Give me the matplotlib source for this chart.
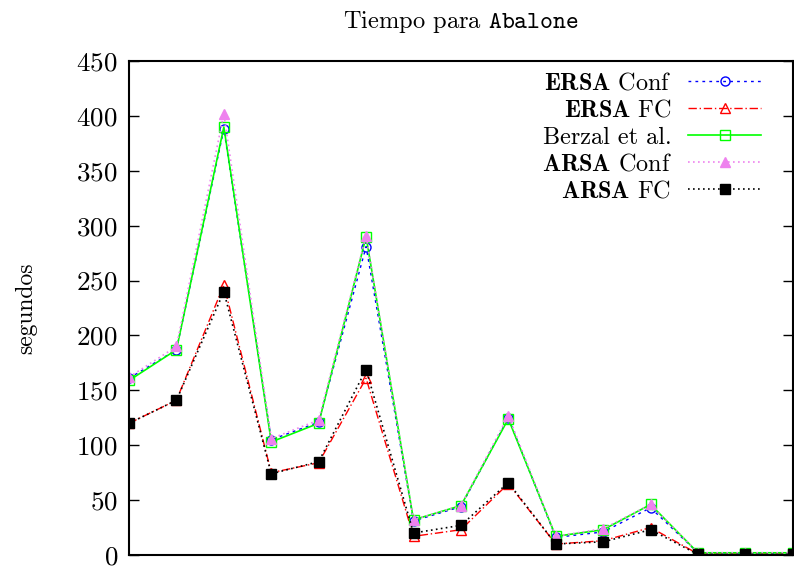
import matplotlib
matplotlib.use("Agg")
import matplotlib.pyplot as plt
import numpy as np

# fuentes tipo LaTeX (Computer Modern incluidas en matplotlib)
plt.rcParams['font.family'] = 'cmr10'
plt.rcParams['mathtext.fontset'] = 'cm'
plt.rcParams['axes.formatter.use_mathtext'] = True

# tiempos (segundos) por experimento
ersa_conf = [161, 187, 388, 105, 121, 281, 31, 44, 125, 16, 21, 43, 2, 1.5, 1.5]
ersa_fc   = [120, 141, 246, 75, 84, 161, 17, 23, 65, 10, 13, 25, 1, 1, 1]
berzal    = [159, 187, 390, 103, 120, 290, 32, 45, 124, 17, 23, 46, 2, 2, 2]
arsa_conf = [162, 190, 402, 106, 123, 291, 32, 45, 127, 17, 24, 46, 2, 2, 2]
arsa_fc   = [120, 141, 240, 74, 85, 169, 20, 27, 66, 10, 12, 23, 0.5, 0.5, 0.5]
x = np.arange(len(berzal))

fig = plt.figure(figsize=(7.94, 5.67), dpi=100)
ax = fig.add_axes([0.1625, 0.0212, 0.836, 0.871])

ax.plot(x, ersa_conf, color='blue', ls=(0, (2, 3)), lw=1, marker='o', ms=6.5,
        mfc='none', mew=1, label=r'$\mathbf{ERSA}$ Conf')
ax.plot(x, ersa_fc, color='red', ls=(0, (6, 2, 1, 2)), lw=1, marker='^', ms=6.5,
        mfc='none', mew=1, label=r'$\mathbf{ERSA}$ FC')
ax.plot(x, berzal, color='#00ff00', ls='-', lw=1.2, marker='s', ms=6.5,
        mfc='none', mew=1, label='Berzal et al.')
ax.plot(x, arsa_conf, color='violet', ls=(0, (1, 2)), lw=1.2, marker='^', ms=6.5,
        label=r'$\mathbf{ARSA}$ Conf')
ax.plot(x, arsa_fc, color='black', ls=(0, (1, 2)), lw=1.2, marker='s', ms=6.5,
        label=r'$\mathbf{ARSA}$ FC')

ax.set_xlim(0, 14)
ax.set_ylim(0, 450)
ax.set_yticks(np.arange(0, 451, 50))
ax.set_xticks([])
ax.tick_params(axis='y', direction='in', length=7, width=1, right=True, pad=8,
               labelsize=19.5)
for s in ax.spines.values():
    s.set_linewidth(1.5)

ax.set_ylabel('segundos', labelpad=28, fontsize=17)
ax.set_title(r'Tiempo para $\mathtt{Abalone}$', pad=24, fontsize=17.6)

ax.legend(loc='upper right', bbox_to_anchor=(0.952, 0.977), markerfirst=False,
          frameon=False, handlelength=3.0, labelspacing=0.2, handletextpad=0.7,
          borderaxespad=0, borderpad=0, fontsize=17.4)

fig.savefig('out.png', dpi=100)
